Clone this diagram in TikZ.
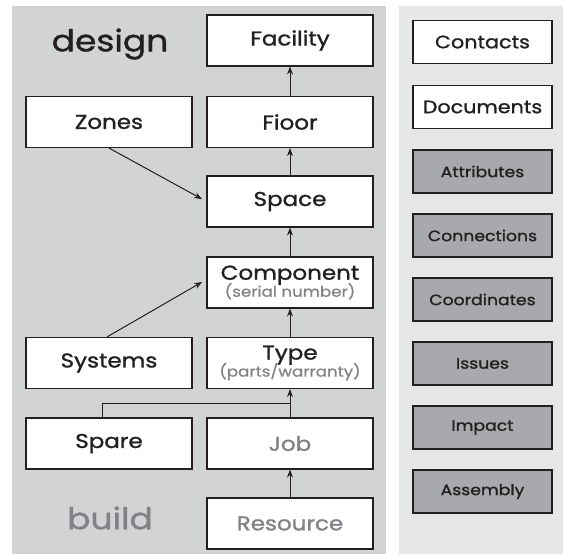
\documentclass[tikz,border=0pt]{standalone}
\usepackage{fontspec}
\setmainfont{Poppins}[FakeStretch=1.15, FakeBold=1.2]
\newfontfamily\thinfont{Poppins}[FakeStretch=1.15, FakeBold=0.6]
\usetikzlibrary{arrows.meta}
\definecolor{ink}{HTML}{231F20}
\definecolor{dim}{HTML}{808285}
\definecolor{panelA}{HTML}{D1D3D4}
\definecolor{panelB}{HTML}{E6E7E8}
\definecolor{boxgray}{HTML}{A7A9AC}
\newcommand{\sub}[1]{\\[-4pt]{\thinfont\fontsize{14.5}{15}\selectfont\color{dim}#1}}

\begin{document}
\begin{tikzpicture}[x=1pt, y=-1pt, >={Stealth[length=8pt,width=6pt]},
  big/.style={draw=ink, line width=1.1pt, fill=white, minimum width=166pt, minimum height=51pt, inner sep=0pt, align=center, text=ink, font=\fontsize{20}{21}\selectfont},
  side/.style={draw=ink, line width=1.1pt, fill=white, minimum width=139pt, minimum height=43pt, inner sep=0pt, text=ink, font=\fontsize{18}{20}\selectfont},
  sidegray/.style={side, fill=boxgray, font=\fontsize{15}{17}\selectfont},
  link/.style={->, draw=ink, line width=1pt}]
      \useasboundingbox[fill=white] (0, 0) rectangle (563, 554);
      \fill[panelA] (12, 6) rectangle (386, 554);
      \fill[panelB] (399, 6) rectangle (563, 554);
      \node[text=ink, font=\fontsize{30}{32}\selectfont] (dsg) at (110, 44) {design};
      \node[text=dim, font=\fontsize{30}{32}\selectfont] (bld) at (110, 518) {build};
      \node[big] (F) at (290, 40.5) {Facility};
      \node[big] (Fl) at (290, 122) {Fioor};
      \node[big] (S) at (290, 201.5) {Space};
      \node[big] (C) at (290, 282.5) {Component\sub{(serial number)}};
      \node[big] (T) at (290, 363) {Type\sub{(parts/warranty)}};
      \node[big, text=dim] (J) at (290, 443.5) {Job};
      \node[big, text=dim] (R) at (290, 523.5) {Resource};
      \node[big] (Z) at (109, 122) {Zones};
      \node[big] (Sy) at (109, 363) {Systems};
      \node[big] (Sp) at (109, 443.5) {Spare};
      \node[side] (Ct) at (482.5, 42) {Contacts};
      \node[side] (D) at (482.5, 107) {Documents};
      \node[sidegray] (A) at (482.5, 171.5) {Attributes};
      \node[sidegray] (Cn) at (482.5, 235.5) {Connections};
      \node[sidegray] (Co) at (482.5, 299.5) {Coordinates};
      \node[sidegray] (I) at (482.5, 363.5) {Issues};
      \node[sidegray] (Im) at (482.5, 427.5) {Impact};
      \node[sidegray] (As) at (482.5, 491.5) {Assembly};
      \coordinate (j) at (290, 403);
      \draw[link] (Fl) to (F);
      \draw[link] (S) to (Fl);
      \draw[link] (C) to (S);
      \draw[link] (T) to (C);
      \draw[link] (J) to (T);
      \draw[link] (R) to (J);
      \draw[link, shorten >=5pt] (Z.south) to (S.west);
      \draw[link, shorten >=5pt] ([xshift=-2pt]Sy.north) to ([yshift=3pt]C.west);
      \draw[ink, line width=1pt] ([xshift=-7pt]Sp.north) |- (j);
    \end{tikzpicture}
\end{document}
